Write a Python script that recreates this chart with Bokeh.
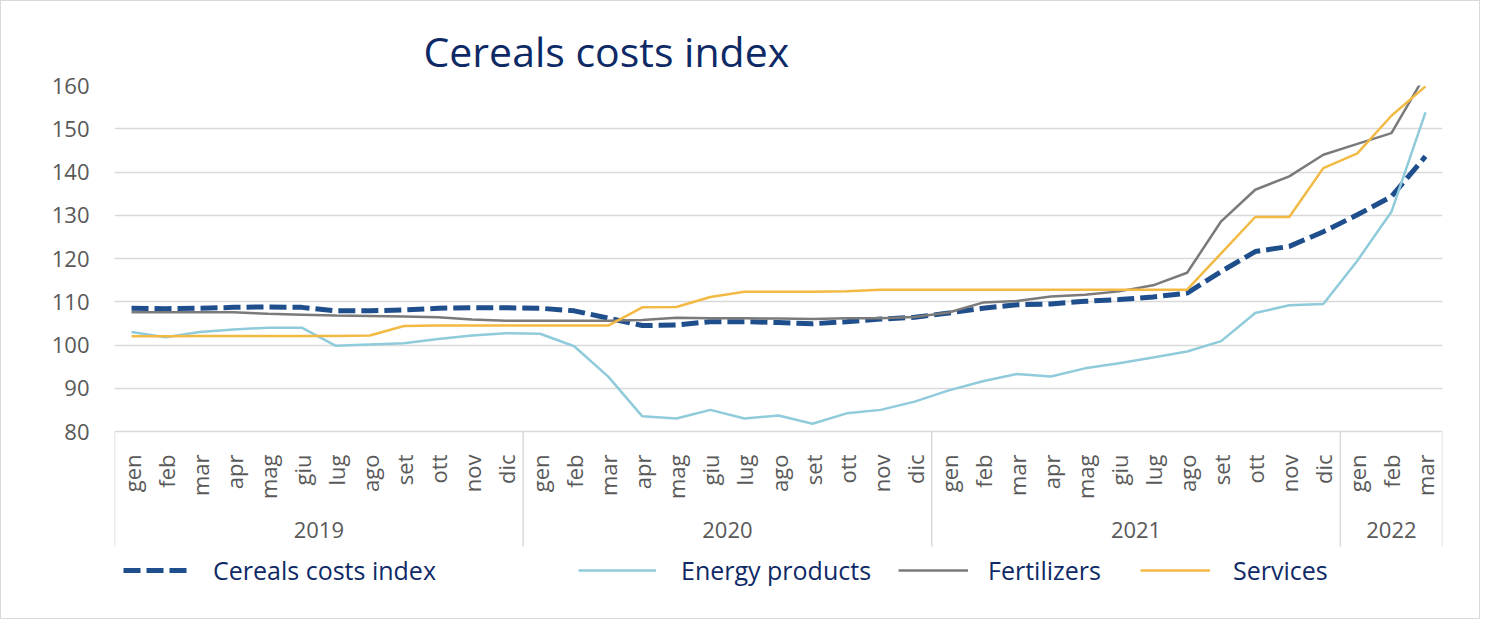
import math
from bokeh.plotting import figure
from bokeh.models import FactorRange, Range1d, Legend, LegendItem, FixedTicker
from bokeh.core.properties import value
from bokeh.embed import file_html
from bokeh.resources import INLINE

years = ["2019", "2020", "2021", "2022"]
months = ["gen", "feb", "mar", "apr", "mag", "giu", "lug", "ago", "set", "ott", "nov", "dic"]
months_2022 = ["gen", "feb", "mar"]

cereals = [108.5, 108.4, 108.5, 108.7, 108.8, 108.7, 107.9, 107.9, 108.1, 108.5, 108.6, 108.6,
           108.5, 107.9, 106.2, 104.5, 104.6, 105.4, 105.4, 105.2, 104.9, 105.4, 106.0, 106.4,
           107.4, 108.5, 109.3, 109.5, 110.1, 110.5, 111.1, 112.0, 117.0, 121.6, 122.8, 126.2,
           130.1, 134.3, 143.6]
energy = [103.0, 101.8, 103.0, 103.6, 104.0, 104.0, 99.8, 100.1, 100.4, 101.4, 102.2, 102.7,
          102.6, 99.7, 92.7, 83.5, 83.0, 85.0, 83.0, 83.7, 81.8, 84.2, 85.0, 86.9,
          89.5, 91.6, 93.3, 92.7, 94.6, 95.8, 97.1, 98.5, 100.9, 107.4, 109.2, 109.5,
          119.5, 130.8, 153.8]
fertilizers = [107.6, 107.6, 107.6, 107.6, 107.2, 107.0, 106.8, 106.7, 106.6, 106.4, 105.9, 105.6,
               105.6, 105.6, 105.6, 105.8, 106.3, 106.2, 106.2, 106.1, 106.0, 106.2, 106.2, 106.5,
               107.5, 109.8, 110.2, 111.2, 111.6, 112.4, 113.8, 116.7, 128.6, 135.9, 139.0, 144.0,
               146.5, 149.0, 162.5]
services = [102.0, 102.0, 102.1, 102.1, 102.1, 102.1, 102.1, 102.2, 104.4, 104.5, 104.5, 104.5,
            104.5, 104.5, 104.5, 108.7, 108.8, 111.1, 112.3, 112.3, 112.3, 112.4, 112.8, 112.8,
            112.8, 112.8, 112.8, 112.8, 112.8, 112.8, 112.8, 112.8, 121.2, 129.6, 129.6, 140.9,
            144.3, 153.0, 159.8]
y_ticks = [80, 90, 100, 110, 120, 130, 140, 150, 160]

factors = [(y, m) for y in years[:3] for m in months] + [(years[3], m) for m in months_2022]
month_labels = [m for (_, m) in factors]

NAVY = "#0E2A66"
GREY_TXT = "#595959"
GRID = "#D9D9D9"
FONT = "Open Sans"

# vertical layout in data units (px per unit = 346/80)
Y_MIN, Y_MAX = 80, 160
PX = 346.0 / (Y_MAX - Y_MIN)
FRAME_H = 528
y_start = Y_MAX - FRAME_H / PX
month_y = Y_MIN - 23 / PX
year_y = Y_MIN - 98 / PX
box_bottom = Y_MIN - 115 / PX

p = figure(
    x_range=FactorRange(*factors, range_padding=0, group_padding=0, subgroup_padding=0, factor_padding=0),
    y_range=Range1d(y_start, Y_MAX),
    width=1480, height=619,
    x_axis_location=None,
    output_backend="svg", toolbar_location=None,
    min_border_left=113, min_border_right=39, min_border_top=84, min_border_bottom=7,
    styles={"border": "1px solid #D9D9D9"},
)
p.outline_line_color = None
p.background_fill_color = "white"

p.title.text = "Cereals costs index"
p.title.text_font = FONT
p.title.text_font_size = "41px"
p.title.text_font_style = "normal"
p.title.text_color = NAVY
p.title.align = "left"
p.title.offset = 309
p.title.standoff = 13

# grid / y axis
p.xgrid.grid_line_color = None
p.ygrid.grid_line_color = GRID
p.ygrid.grid_line_width = 1.5
p.yaxis.ticker = FixedTicker(ticks=y_ticks)
p.yaxis.axis_line_color = None
p.yaxis.major_tick_line_color = None
p.yaxis.minor_tick_line_color = None
p.yaxis.major_tick_out = 0
p.yaxis.major_tick_in = 0
p.yaxis.major_label_standoff = 25
p.yaxis.major_label_text_font = FONT
p.yaxis.major_label_text_font_size = "22px"
p.yaxis.major_label_text_color = GREY_TXT

# category axis box (months, years, separators) below the 80 line
edges = [(y, months[0], -0.5) for y in years] + [(years[-1], months_2022[-1], 0.5)]
p.segment(x0=edges, y0=[Y_MIN] * len(edges), x1=edges, y1=[box_bottom] * len(edges),
          line_color=GRID, line_width=1.5)
p.text(x=factors, y=[month_y] * len(factors), text=month_labels, angle=math.pi / 2,
       text_align="right", text_baseline="middle", text_font=value(FONT),
       text_font_size="22px", text_color=GREY_TXT)
p.text(x=years, y=[year_y] * len(years), text=years, text_align="center",
       text_baseline="middle", text_font=value(FONT), text_font_size="22px",
       text_color=GREY_TXT)

r_c = p.line(factors, cereals, line_color="#1F4E8C", line_width=5, line_dash="17 6")
r_e = p.line(factors, energy, line_color="#8FCBDA", line_width=2.5)
r_f = p.line(factors, fertilizers, line_color="#7A7A7A", line_width=2.5)
r_s = p.line(factors, services, line_color="#F2BA44", line_width=2.5)

items = [("Cereals costs index", r_c, 9, 68, 22), ("Energy products", r_e, 464, 78, 25),
         ("Fertilizers", r_f, 784, 70, 20), ("Services", r_s, 1026, 70, 23)]
for label, r, xpos, gw, gap in items:
    leg = Legend(items=[LegendItem(label=label, renderers=[r])], location=(xpos, 26))
    leg.border_line_color = None
    leg.background_fill_alpha = 0
    leg.label_text_font = FONT
    leg.label_text_font_size = "25px"
    leg.label_text_color = NAVY
    leg.glyph_width = gw
    leg.glyph_height = 30
    leg.label_height = 30
    leg.label_standoff = gap
    leg.padding = 0
    leg.margin = 0
    leg.spacing = 0
    p.add_layout(leg)

open("out.html", "w").write(file_html(p, INLINE))
